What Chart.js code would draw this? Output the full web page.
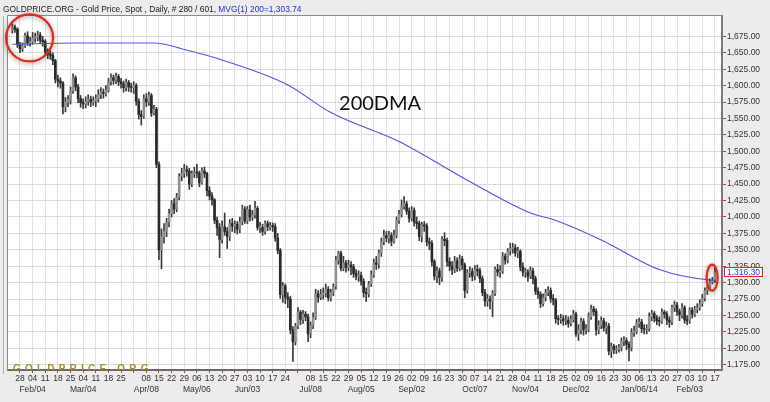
<!DOCTYPE html>
<html>
<head>
<meta charset="utf-8">
<script src="https://cdn.jsdelivr.net/npm/chart.js@4.4.0/dist/chart.umd.min.js"></script>
<style>
  html, body { margin: 0; padding: 0; background: #ececec; }
  #goldChart { display: block; }
</style>
</head>
<body>
<canvas id="goldChart" width="770" height="402"></canvas>
<script>
// daily closes, Jan 23 2013 .. Feb 17 2014
const closes = [1689,1686,1662,
1656,1661,1676,1665,1667, 1672,1674,1677,1669,1667, 1652,1648,1646,1638,1610, 1607,1604,1568,1575,1578,
1592,1612,1598,1580,1574, 1572,1576,1579,1575,1577, 1580,1586,1590,1588,1593, 1606,1612,1608,1614,1606,
1603,1597,1605,1598,1597, 1600,1576,1556,1553,1580, 1575,1585,1558,1564,1480, 1350,1370,1378,1392,1405,
1420,1412,1430,1462,1466, 1472,1470,1450,1466,1468, 1467,1452,1470,1466,1440, 1432,1426,1395,1384,1366,
1385,1378,1370,1390,1386, 1389,1381,1393,1412,1394, 1411,1400,1403,1413,1384, 1384,1378,1390,1385,1387,
1385,1368,1349,1282,1295, 1278,1275,1228,1210,1234, 1255,1244,1252,1248,1222, 1235,1247,1283,1278,1282,
1284,1290,1277,1285,1294, 1334,1345,1322,1330,1323, 1327,1324,1314,1310,1311, 1302,1285,1283,1298,1312,
1330,1328,1345,1362,1372, 1368,1372,1363,1372,1395, 1404,1416,1420,1409,1398, 1410,1392,1390,1370,1388,
1386,1362,1360,1332,1310, 1318,1308,1366,1364,1332, 1325,1320,1333,1322,1336, 1327,1288,1315,1317,1310,
1320,1318,1306,1285,1272, 1275,1272,1284,1320,1316, 1318,1340,1334,1348,1352, 1353,1345,1348,1324,1316,
1316,1310,1318,1306,1287, 1282,1268,1277,1285,1288, 1276,1273,1245,1244,1245, 1242,1243,1238,1244,1252,
1222,1228,1241,1228,1229, 1248,1260,1256,1228,1235, 1242,1231,1234,1196,1203, 1198,1199,1201,1211,1212,
1206,1201,1224,1226,1238, 1240,1230,1229,1230,1248, 1253,1246,1242,1241,1255, 1252,1243,1240,1262,1266,
1256,1251,1262,1243,1242, 1258,1252,1259,1262,1268, 1276,1288,1292,1301,1304,
1316.3];

const highs = [1694,1692,1688,
1666,1665,1680,1682,1674, 1681,1680,1683,1681,1675, 1670,1656,1653,1650,1640, 1616,1612,1606,1582,1585,
1598,1618,1615,1602,1585, 1580,1583,1586,1584,1583, 1586,1594,1597,1595,1600, 1611,1618,1616,1619,1617,
1611,1607,1610,1608,1604, 1606,1603,1580,1562,1586, 1588,1590,1588,1570,1567, 1484,1382,1390,1398,1412,
1425,1428,1436,1466,1474, 1480,1478,1474,1470,1476, 1480,1470,1475,1476,1468, 1446,1437,1428,1400,1390,
1394,1406,1384,1396,1398, 1394,1393,1400,1418,1416, 1416,1418,1410,1424,1416, 1392,1389,1394,1394,1392,
1391,1390,1375,1352,1300, 1298,1285,1279,1233,1238, 1262,1258,1258,1256,1252, 1240,1254,1290,1288,1290,
1292,1298,1294,1290,1298, 1340,1348,1348,1340,1334, 1334,1332,1328,1320,1318, 1316,1306,1292,1302,1318,
1336,1340,1350,1368,1380, 1378,1378,1376,1380,1400, 1410,1426,1431,1424,1414, 1416,1414,1400,1394,1392,
1393,1390,1368,1364,1335, 1324,1322,1370,1376,1368, 1338,1332,1340,1338,1342, 1340,1330,1320,1324,1322,
1326,1327,1322,1310,1290, 1282,1280,1288,1324,1328, 1326,1346,1344,1352,1360, 1360,1358,1354,1350,1330,
1322,1320,1324,1322,1310, 1292,1286,1283,1290,1294, 1292,1282,1276,1250,1252, 1250,1250,1248,1250,1258,
1255,1236,1246,1245,1236, 1254,1266,1264,1260,1242, 1248,1246,1240,1238,1208, 1206,1204,1206,1216,1218,
1216,1210,1230,1234,1244, 1246,1244,1236,1236,1254, 1258,1256,1250,1248,1260, 1258,1256,1248,1266,1272,
1270,1260,1268,1265,1250, 1262,1262,1264,1268,1274, 1282,1292,1296,1306,1308,
1324];

const lows = [1680,1681,1658,
1650,1652,1658,1661,1660, 1663,1666,1668,1664,1660, 1646,1641,1640,1632,1604, 1598,1596,1557,1560,1568,
1572,1588,1592,1574,1567, 1565,1566,1570,1568,1570, 1568,1575,1580,1581,1584, 1590,1601,1602,1603,1600,
1596,1590,1592,1591,1590, 1588,1570,1549,1540,1550, 1568,1570,1553,1555,1475, 1335,1321,1360,1370,1385,
1400,1405,1408,1426,1455, 1460,1462,1442,1446,1460, 1460,1446,1450,1460,1432, 1426,1418,1390,1372,1338,
1360,1372,1352,1364,1378, 1376,1374,1376,1388,1390, 1390,1394,1395,1398,1380, 1376,1372,1374,1379,1380,
1378,1363,1344,1276,1270, 1268,1262,1222,1180,1205, 1230,1236,1238,1242,1210, 1216,1230,1244,1270,1274,
1275,1278,1272,1272,1280, 1290,1328,1318,1318,1316, 1318,1312,1308,1304,1302, 1296,1278,1271,1278,1294,
1308,1320,1322,1340,1358, 1362,1360,1356,1360,1368, 1390,1400,1412,1404,1392, 1394,1386,1382,1364,1362,
1378,1356,1350,1325,1304, 1300,1297,1302,1356,1325, 1318,1312,1315,1317,1318, 1320,1277,1284,1308,1303,
1304,1310,1300,1280,1264, 1264,1260,1248,1280,1310, 1308,1314,1328,1330,1342, 1345,1340,1338,1318,1310,
1308,1302,1306,1298,1282, 1276,1262,1264,1272,1280, 1270,1266,1238,1236,1238, 1235,1236,1232,1234,1240,
1218,1212,1222,1220,1222, 1225,1244,1250,1220,1222, 1230,1226,1222,1190,1186, 1192,1192,1194,1196,1204,
1198,1181,1196,1218,1222, 1232,1224,1222,1222,1226, 1242,1240,1236,1234,1238, 1246,1236,1232,1236,1256,
1250,1242,1246,1238,1236, 1238,1246,1248,1254,1258, 1264,1272,1282,1288,1298,
1300];

const firstOpen = 1684;

// 200-day moving average, read at a few bars
const maIdx = [0, 25, 56, 70, 83, 109, 126, 153, 180, 205, 214, 233, 256, 276, 278];
const maVal = [1663, 1665, 1665, 1653, 1639, 1601, 1559, 1515, 1456, 1406, 1396, 1365, 1320, 1304, 1303.74];

// weekly ticks (Mondays), first one is Jan 28 2013
const dayLabels = ['28','04','11','18','25','04','11','18','25','','08','15','22','29','06','13','20','27',
  '03','10','17','24','','08','15','22','29','05','12','19','26','02','09','16','23','30','07','14','21','28',
  '04','11','18','25','02','09','16','23','30','06','13','20','27','03','10','17'];
const monthLabels = {1:'Feb/04', 5:'Mar/04', 10:'Apr/08', 14:'May/06', 18:'Jun/03', 23:'Jul/08', 27:'Aug/05',
  31:'Sep/02', 36:'Oct/07', 40:'Nov/04', 44:'Dec/02', 49:'Jan/06/14', 53:'Feb/03'};
const yTicks = [1175,1200,1225,1250,1275,1300,1325,1350,1375,1400,1425,1450,1475,1500,1525,1550,1575,1600,1625,1650,1675];

const titleMain = 'GOLDPRICE.ORG - Gold Price, Spot , Daily, # 280 / 601, ';
const titleMvg = 'MVG(1) 200=1,303.74';
const lastPrice = 1316.3;

const opens = closes.map((c, i) => i ? closes[i - 1] : firstOpen);
const weekIdx = dayLabels.map((_, k) => 3 + 5 * k);

function money(v) {
    const s = v.toFixed(2);
    const [a, b] = s.split('.');
    return a.replace(/\B(?=(\d{3})+(?!\d))/g, ',') + '.' + b;
}

const font = 'Liberation Sans, Arial, sans-serif';

const framePlugin = {
    id: 'framePlugin',
    beforeDraw(chart) {
        const {ctx, chartArea: a} = chart;
        ctx.save();
        ctx.fillStyle = '#ececec';
        ctx.fillRect(0, 0, chart.width, chart.height);
        ctx.fillStyle = '#ffffff';
        ctx.fillRect(a.left, a.top, a.right - a.left, a.bottom - a.top);
        ctx.restore();
    },
    afterDatasetsDraw(chart) {
        const {ctx, chartArea: a} = chart;
        // site watermark along the bottom, cut by the axis
        ctx.save();
        ctx.beginPath();
        ctx.rect(a.left, a.top, a.right - a.left, a.bottom - a.top);
        ctx.clip();
        ctx.font = 'bold 10px ' + font;
        ctx.letterSpacing = '4.2px';
        ctx.fillStyle = '#a88e2e';
        ctx.textBaseline = 'alphabetic';
        ctx.fillText('GOLDPRICE.ORG', 13, a.bottom + 1.5);
        ctx.restore();
    },
    afterDraw(chart) {
        const {ctx, chartArea: a, scales: {x, y}} = chart;
        ctx.save();
        // frame
        ctx.strokeStyle = '#8a8a8a';
        ctx.lineWidth = 1;
        ctx.beginPath();
        ctx.moveTo(a.left - 0.5, a.bottom);
        ctx.lineTo(a.left - 0.5, a.top - 0.5);
        ctx.lineTo(a.right, a.top - 0.5);
        ctx.stroke();
        ctx.strokeStyle = '#b0b0b0';
        ctx.beginPath();
        ctx.moveTo(3.5, a.top);
        ctx.lineTo(3.5, a.bottom + 4);
        ctx.stroke();

        // title line
        ctx.font = '8.4px ' + font;
        ctx.textBaseline = 'alphabetic';
        ctx.fillStyle = '#1a1a1a';
        ctx.fillText(titleMain, 3, 12);
        ctx.fillStyle = '#2a2ad8';
        ctx.fillText(titleMvg, 3 + ctx.measureText(titleMain).width, 12);

        // 200DMA note
        ctx.font = '20px Lato, sans-serif';
        ctx.fillStyle = '#111';
        ctx.textAlign = 'center';
        ctx.textBaseline = 'middle';
        ctx.fillText('200DMA', x.getPixelForValue(145.5), y.getPixelForValue(1573));

        // last price box on the axis
        const py = y.getPixelForValue(lastPrice);
        ctx.fillStyle = '#ffffff';
        ctx.fillRect(a.right + 2, py - 4.5, 38, 9);
        ctx.strokeStyle = '#e02020';
        ctx.lineWidth = 1;
        ctx.strokeRect(a.right + 2.5, py - 4.5, 38, 9);
        ctx.font = '8.5px ' + font;
        ctx.textAlign = 'left';
        ctx.fillStyle = '#3030f0';
        ctx.fillText(money(lastPrice), a.right + 5, py + 0.5);

        // red highlight rings
        ctx.shadowColor = 'rgba(0,0,0,0.45)';
        ctx.shadowBlur = 5;
        ctx.shadowOffsetY = 1;
        ctx.strokeStyle = '#e2291b';
        ctx.lineWidth = 2.2;
        ctx.beginPath();
        ctx.arc(x.getPixelForValue(6.8), y.getPixelForValue(1672.7), 23.5, 0, Math.PI * 2);
        ctx.stroke();
        ctx.beginPath();
        ctx.ellipse(x.getPixelForValue(276.9), y.getPixelForValue(1307.5), 5.5, 13, 0, 0, Math.PI * 2);
        ctx.stroke();
        ctx.restore();
    }
};

function initGoldChart() {
    const canvas = document.getElementById('goldChart');
    const ctx = canvas.getContext('2d');

    const wickData = closes.map((c, i) => ({x: i, y: [lows[i], highs[i]]}));
    const bodyData = closes.map((c, i) => ({x: i, y: [opens[i], c]}));
    const bodyColors = closes.map((c, i) => c >= opens[i] ? '#909090' : '#2a2a2a');

    new Chart(ctx, {
        type: 'bar',
        data: {
            datasets: [
                {
                    type: 'line',
                    label: 'MVG 200',
                    data: maIdx.map((v, i) => ({x: v, y: maVal[i]})),
                    borderColor: '#5252ee',
                    borderWidth: 1.1,
                    pointRadius: 0,
                    cubicInterpolationMode: 'monotone',
                    order: 0
                },
                {
                    label: 'body',
                    data: bodyData,
                    backgroundColor: bodyColors,
                    barThickness: 2,
                    minBarLength: 1,
                    grouped: false,
                    order: 1
                },
                {
                    label: 'range',
                    data: wickData,
                    backgroundColor: '#3a3a3a',
                    barThickness: 1,
                    grouped: false,
                    order: 2
                }
            ]
        },
        options: {
            responsive: false,
            animation: false,
            events: [],
            layout: {padding: {top: 16, left: 8, right: 0, bottom: 0}},
            plugins: {
                legend: {display: false},
                tooltip: {enabled: false}
            },
            scales: {
                x: {
                    type: 'linear',
                    min: -1.74,
                    max: 280.8,
                    offset: false,
                    afterBuildTicks: scale => {
                        scale.ticks = weekIdx.map(v => ({value: v}));
                    },
                    afterFit: scale => { scale.height = 32; },
                    grid: {color: '#e1e1e1', tickColor: '#e03030', tickLength: 3, offset: false},
                    border: {color: '#6a6a6a', width: 2},
                    ticks: {
                        autoSkip: false,
                        maxRotation: 0,
                        minRotation: 0,
                        padding: 1,
                        color: '#333',
                        font: {family: font, size: 8.5, lineHeight: 1.2},
                        callback: (value, index) => {
                            const d = dayLabels[index];
                            const m = monthLabels[index];
                            return m ? [d, m] : d;
                        }
                    }
                },
                y: {
                    type: 'linear',
                    position: 'right',
                    min: 1167,
                    max: 1706,
                    afterBuildTicks: scale => {
                        scale.ticks = yTicks.map(v => ({value: v}));
                    },
                    afterFit: scale => { scale.width = 48; },
                    grid: {color: '#dcdcdc', tickColor: '#e03030', tickLength: 4},
                    border: {color: '#7a7a7a', width: 2},
                    ticks: {
                        padding: 1,
                        color: '#333',
                        font: {family: font, size: 8.5},
                        callback: v => money(v)
                    }
                }
            }
        },
        plugins: [framePlugin]
    });
}

document.addEventListener('DOMContentLoaded', initGoldChart);
</script>
</body>
</html>
